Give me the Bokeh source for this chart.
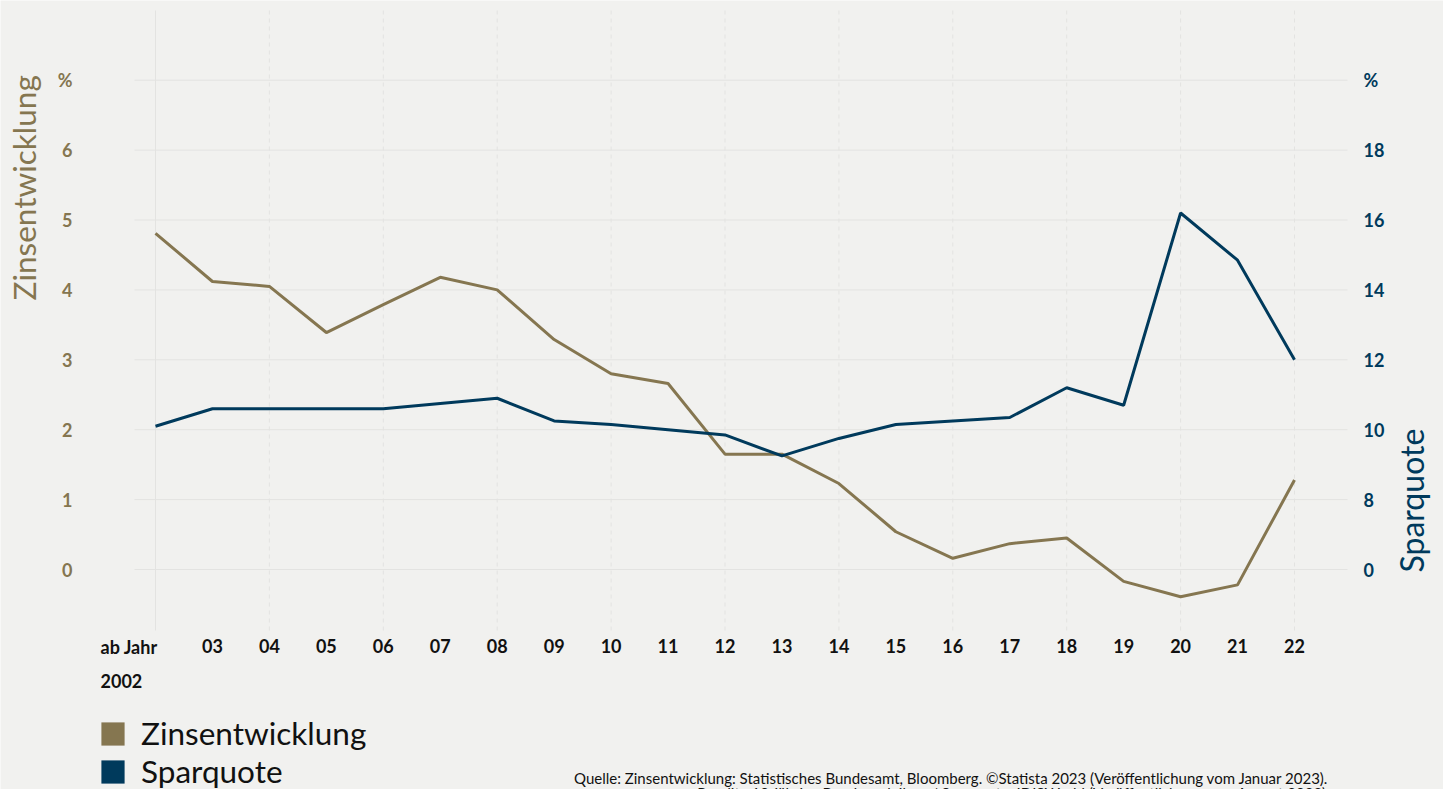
import math
from bokeh.plotting import figure
from bokeh.models import (Range1d, LinearAxis, FixedTicker, Label, Legend, LegendItem,
                          ColumnDataSource)
from bokeh.embed import file_html
from bokeh.resources import INLINE

# ---- data ----
years = list(range(2002, 2023))
year_labels = ["", "03", "04", "05", "06", "07", "08", "09", "10", "11", "12",
               "13", "14", "15", "16", "17", "18", "19", "20", "21", "22"]
zins = [4.81, 4.12, 4.05, 3.39, 3.79, 4.18, 4.00, 3.29, 2.80, 2.66, 1.65,
        1.65, 1.23, 0.54, 0.16, 0.37, 0.45, -0.17, -0.39, -0.22, 1.28]
sparquote = [10.1, 10.6, 10.6, 10.6, 10.6, 10.75, 10.9, 10.25, 10.15, 10.0, 9.85,
             9.25, 9.75, 10.15, 10.25, 10.35, 11.2, 10.7, 16.2, 14.85, 12.0]
left_ticks = [0, 1, 2, 3, 4, 5, 6, 7]
left_labels = ["0", "1", "2", "3", "4", "5", "6", "%"]
right_ticks = [6, 8, 10, 12, 14, 16, 18, 20]
right_labels = ["0", "8", "10", "12", "14", "16", "18", "%"]
grid_years = years[::2]
series_names = ["Zinsentwicklung", "Sparquote"]
source_lines = [
    "Quelle: Zinsentwicklung: Statistisches Bundesamt, Bloomberg. ©Statista 2023 (Veröffentlichung vom Januar 2023).",
    "Rendite 10-jährige Bundesanleihen / Sparquote: IDISWorld (Veröffentlichung vom August 2022).",
]

TAN = "#857650"
BLUE = "#003a5c"
BG = "#f1f1ef"
GRID = "#e3e3e1"
FONT = "Lato"
TICK_SIZE = "18px"

W, H = 1443, 789
PX_YEAR = 56.95          # pixels per year
PX_UNIT = 69.9           # pixels per left-axis unit
X0, Y0 = 155, 569        # pixel position of (2002, 0)

def xd(px):
    return 2002 + (px - X0) / PX_YEAR

def yd(py):
    return (Y0 - py) / PX_UNIT

def sy(py):
    return H - py

p = figure(width=W, height=H, output_backend="svg", toolbar_location=None,
           x_range=Range1d(xd(0), xd(W)), y_range=Range1d(yd(H), yd(0)),
           min_border=0)
p.background_fill_color = BG
p.border_fill_color = BG
p.outline_line_color = None
p.xgrid.grid_line_color = None
p.ygrid.grid_line_color = None

# right range: r = 2*v + 6
p.extra_y_ranges = {"right": Range1d(2 * yd(H) + 6, 2 * yd(0) + 6)}

FRAME_L, FRAME_R, FRAME_T, FRAME_B = 130, 1350, 10, 630

def style_axis(ax, color, standoff):
    ax.axis_line_color = None
    ax.major_tick_line_color = None
    ax.minor_tick_line_color = None
    ax.major_label_standoff = standoff
    ax.major_label_text_font = FONT
    ax.major_label_text_font_style = "bold"
    ax.major_label_text_font_size = TICK_SIZE
    ax.major_label_text_color = color

# x axis
xa = p.xaxis[0]
xa.fixed_location = yd(FRAME_B)
xa.ticker = FixedTicker(ticks=years)
xa.major_label_overrides = {y: l for y, l in zip(years, year_labels)}
style_axis(xa, "#111111", 2)

# left axis
ya = p.yaxis[0]
ya.fixed_location = xd(FRAME_L)
ya.ticker = FixedTicker(ticks=left_ticks)
ya.major_label_overrides = {t: l for t, l in zip(left_ticks, left_labels)}
style_axis(ya, TAN, 52)

# right axis
ra = LinearAxis(y_range_name="right", ticker=FixedTicker(ticks=right_ticks),
                fixed_location=xd(FRAME_R))
ra.major_label_overrides = {t: l for t, l in zip(right_ticks, right_labels)}
style_axis(ra, BLUE, 7)
p.add_layout(ra, "right")

# grid lines (limited to the plotting area)
p.segment(x0=[xd(134)] * len(left_ticks), x1=[xd(1347)] * len(left_ticks),
          y0=left_ticks, y1=left_ticks, line_color=GRID, line_width=1)
p.segment(x0=grid_years[:1], x1=grid_years[:1], y0=[yd(FRAME_B)], y1=[yd(FRAME_T)],
          line_color=GRID, line_width=1)
p.segment(x0=grid_years[1:], x1=grid_years[1:], y0=[yd(FRAME_B)] * (len(grid_years) - 1),
          y1=[yd(FRAME_T)] * (len(grid_years) - 1), line_color=GRID, line_width=1,
          line_dash="4 4")

# lines
src = ColumnDataSource(dict(year=years, zins=zins, spar=sparquote))
p.line("year", "zins", source=src, line_color=TAN, line_width=3)
p.line("year", "spar", source=src, line_color=BLUE, line_width=3, y_range_name="right")

# legend with square swatches (proxy glyphs with no visible data)
nan = float("nan")
proxy = ColumnDataSource(dict(l=[nan], r=[nan], t=[nan], b=[nan]))
q1 = p.quad(left="l", right="r", top="t", bottom="b", source=proxy,
            fill_color=TAN, line_color=None)
q2 = p.quad(left="l", right="r", top="t", bottom="b", source=proxy,
            fill_color=BLUE, line_color=None)
legend = Legend(items=[LegendItem(label=series_names[0], renderers=[q1]),
                       LegendItem(label=series_names[1], renderers=[q2])],
                location=(98, -1), orientation="vertical",
                glyph_width=29, glyph_height=29, label_standoff=14,
                label_text_font=FONT, label_text_font_size="31.5px",
                label_text_color="#111111", label_height=29,
                spacing=0, padding=0, margin=0,
                background_fill_alpha=0, border_line_color=None)
p.add_layout(legend, "center")

# first tick label "ab Jahr / 2002"
for txt, py in (("ab Jahr", 646), ("2002", 680)):
    p.add_layout(Label(x=100, y=sy(py), x_units="screen", y_units="screen", text=txt,
                       text_font=FONT, text_font_style="bold", text_font_size=TICK_SIZE,
                       text_color="#111111", text_align="left", text_baseline="middle"))

# axis titles
p.add_layout(Label(x=23, y=sy(300), x_units="screen", y_units="screen",
                   text=series_names[0], angle=math.pi / 2, text_font=FONT,
                   text_font_size="31.5px", text_color=TAN, text_align="left",
                   text_baseline="middle"))
p.add_layout(Label(x=1411, y=sy(572), x_units="screen", y_units="screen",
                   text=series_names[1], angle=math.pi / 2, text_font=FONT,
                   text_font_size="32px", text_color=BLUE, text_align="left",
                   text_baseline="middle"))

# source
p.add_layout(Label(x=1328, y=sy(777), x_units="screen", y_units="screen",
                   text=source_lines[0], text_font=FONT, text_font_size="15px",
                   text_color="#111111", text_align="right", text_baseline="middle"))
p.add_layout(Label(x=1330, y=sy(792), x_units="screen", y_units="screen",
                   text=source_lines[1], text_font=FONT, text_font_size="15px",
                   text_color="#111111", text_align="right", text_baseline="middle"))

open("out.html", "w").write(file_html(p, INLINE))
